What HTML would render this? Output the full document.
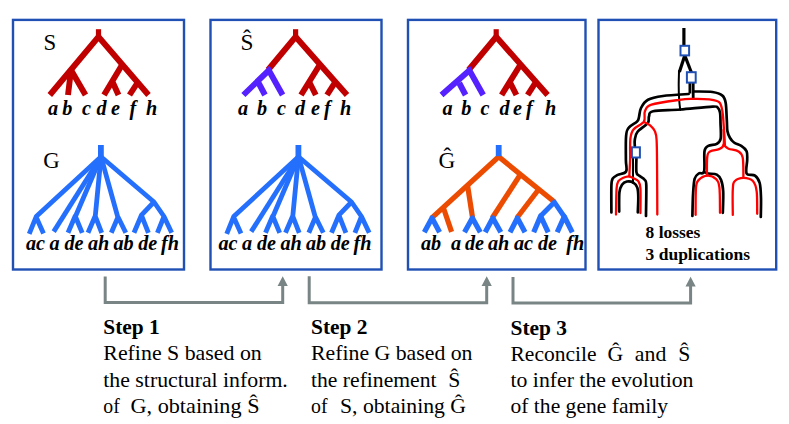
<!DOCTYPE html>
<html><head><meta charset="utf-8">
<style>
html,body{margin:0;padding:0;background:#fff;}
svg{display:block;}
text{font-family:"Liberation Serif",serif;fill:#000;}
.lab{font-weight:bold;font-style:italic;font-size:20.2px;}
.t{font-size:21.7px;}
.tb{font-size:21.7px;font-weight:bold;}
.sm{font-size:17px;font-weight:bold;}
.box{fill:none;stroke:#2050b4;stroke-width:2.4;}
.r{stroke:#c00000;stroke-width:5.9;fill:none;}
.p{stroke:#5522ff;stroke-width:5.9;fill:none;}
.b{stroke:#2470fc;stroke-width:4.8;stroke-linejoin:round;fill:none;}
.o{stroke:#ec4c02;stroke-width:5.2;fill:none;}
.ar{stroke:#788584;stroke-width:3;fill:none;}
.ah{fill:#788584;}
.k{stroke:#000;stroke-width:2.7;fill:none;stroke-linecap:round;stroke-linejoin:round;}
.k3{stroke:#000;stroke-width:3.2;fill:none;stroke-linecap:butt;}
.k2{stroke:#000;stroke-width:2;fill:none;stroke-linecap:round;stroke-linejoin:round;}
.rd{stroke:#ff0000;stroke-width:2.3;fill:none;stroke-linecap:round;stroke-linejoin:round;}
.sq{fill:#fff;stroke:#2050b4;stroke-width:2;}
</style></head><body>
<svg width="789" height="424" viewBox="0 0 789 424">
<rect width="789" height="424" fill="#fff"/>

<rect class="box" x="13.0" y="19.9" width="171.0" height="249.6"/>
<rect class="box" x="210.5" y="19.9" width="171.0" height="249.6"/>
<rect class="box" x="408.0" y="19.9" width="177.5" height="249.6"/>
<rect class="box" x="598.5" y="19.9" width="177.7" height="249.6"/>
<g>
<path class="r" style="stroke-width:5.2" d="M98.5 29.2 V39"/>
<path class="r" d="M49.8 95.0 L98.5 36.8 L148.5 95.0"/>
<path class="r" d="M71.0 70.0 L68.0 95.0 M71.0 70.0 L85.5 95.0"/>
<path class="r" d="M122.0 65.0 L104.0 95.0 M112.6 82.0 L118.5 95.0"/>
<path class="r" d="M138.0 82.0 L129.5 95.0"/>
</g>
<text class="t" style="font-size:22.8px" x="43.6" y="49.7">S</text>
<text class="lab" y="114.6"><tspan x="48.0">a</tspan><tspan x="62.3">b</tspan><tspan x="82.0">c</tspan><tspan x="96.5">d</tspan><tspan x="111.0">e</tspan><tspan x="129.5">f</tspan><tspan x="146.0">h</tspan></text>
<g transform="translate(0.0 0)"><path class="b" style="stroke-width:5.8" d="M100.9 145 V160"/><path class="b" d="M101.0 156.7 L36.2 216.6 L29.2 233.8 M36.0 216.8 L43.5 233.5"/><path class="b" d="M101.0 156.7 L53.7 231.6"/><path class="b" d="M101.0 156.7 L75.2 217.0 M68.0 232.8 L75.2 216.0 L82.2 232.8"/><path class="b" d="M101.0 156.7 L95.2 217.0 M88.0 232.8 L95.2 216.0 L101.7 232.8"/><path class="b" d="M101.0 156.7 L118.0 217.8 M111.3 232.8 L118.0 217.0 L125.8 232.8"/><path class="b" d="M101.0 156.7 L154.0 202.0 L164.0 216.5 L171.7 232.8 M164.0 216.5 L157.4 232.8"/><path class="b" d="M154.0 202.0 L141.4 215.2 L134.0 232.8 M141.4 215.2 L148.4 232.8"/></g>
<text class="t" style="font-size:22.8px" x="43.2" y="168.1">G</text>
<text class="lab" y="250.0"><tspan x="26.0">ac</tspan><tspan x="49.5">a</tspan><tspan x="64.5">de</tspan><tspan x="88.0">ah</tspan><tspan x="113.5">ab</tspan><tspan x="138.2">de</tspan><tspan x="161.0">fh</tspan></text>
<g><path class="r" style="stroke-width:5.2" d="M295.6 29.2 V39"/><path class="r" d="M268.0 70.0 L295.6 36.8 L347.0 95.0"/><path class="r" d="M319.0 66.0 L301.0 95.0 M309.5 82.5 L315.8 95.0"/><path class="r" d="M335.0 82.5 L327.0 95.0"/><path class="p" d="M243.4 95.0 L268.8 70.3 L282.6 95.0"/><path class="p" d="M258.6 83.0 L265.0 95.0"/></g>
<text class="t" style="font-size:23.3px" x="240.6" y="49.7">Ŝ</text>
<text class="lab" y="114.6"><tspan x="238.0">a</tspan><tspan x="257.0">b</tspan><tspan x="277.0">c</tspan><tspan x="295.0">d</tspan><tspan x="311.0">e</tspan><tspan x="324.0">f</tspan><tspan x="340.0">h</tspan></text>
<g transform="translate(197.5 0)"><path class="b" style="stroke-width:5.8" d="M100.9 145 V160"/><path class="b" d="M101.0 156.7 L36.2 216.6 L29.2 233.8 M36.0 216.8 L43.5 233.5"/><path class="b" d="M101.0 156.7 L53.7 231.6"/><path class="b" d="M101.0 156.7 L75.2 217.0 M68.0 232.8 L75.2 216.0 L82.2 232.8"/><path class="b" d="M101.0 156.7 L95.2 217.0 M88.0 232.8 L95.2 216.0 L101.7 232.8"/><path class="b" d="M101.0 156.7 L118.0 217.8 M111.3 232.8 L118.0 217.0 L125.8 232.8"/><path class="b" d="M101.0 156.7 L154.0 202.0 L164.0 216.5 L171.7 232.8 M164.0 216.5 L157.4 232.8"/><path class="b" d="M154.0 202.0 L141.4 215.2 L134.0 232.8 M141.4 215.2 L148.4 232.8"/></g>
<text class="lab" y="250.0"><tspan x="218.5">ac</tspan><tspan x="242.0">a</tspan><tspan x="257.0">de</tspan><tspan x="280.5">ah</tspan><tspan x="306.0">ab</tspan><tspan x="330.7">de</tspan><tspan x="353.5">fh</tspan></text>
<g><path class="r" style="stroke-width:5.2" d="M496.2 29.2 V39"/><path class="r" d="M468.6 70.0 L496.2 36.8 L547.6 95.0"/><path class="r" d="M519.6 66.0 L501.6 95.0 M510.1 82.5 L516.4 95.0"/><path class="r" d="M535.6 82.5 L527.6 95.0"/><path class="p" d="M441.5 95.0 L469.4 70.3 L483.2 95.0"/><path class="p" d="M459.2 83.0 L465.6 95.0"/></g>
<text class="lab" y="114.6"><tspan x="442.5">a</tspan><tspan x="461.3">b</tspan><tspan x="480.5">c</tspan><tspan x="499.5">d</tspan><tspan x="513.0">e</tspan><tspan x="526.0">f</tspan><tspan x="545.0">h</tspan></text>
<g><path class="o" d="M431.3 218.3 L498.7 156.8 L554.8 202.3"/><path class="b" style="stroke-width:5.8" d="M498.7 145 V156.2"/><path class="o" d="M443.3 207.5 L451.6 231.8"/><path class="o" d="M467.5 185.0 L472.6 218.0"/><path class="o" d="M520.4 174.5 L492.2 218.0"/><path class="o" d="M538.6 189.5 L516.8 218.0"/><path class="b" style="stroke-width:5.2" d="M424.3 232.3 L432.0 218.0 L439.6 232.3"/><path class="b" style="stroke-width:5.2" d="M464.5 232.3 L472.4 218.0 L480.3 232.3"/><path class="b" style="stroke-width:5.2" d="M485.2 232.3 L492.8 218.0 L500.8 232.3"/><path class="b" style="stroke-width:5.2" d="M510.0 232.3 L517.4 218.0 L525.0 232.3"/><path class="b" style="stroke-width:5.2" d="M533.7 232.3 L540.6 216.0 L548.2 232.3"/><path class="b" style="stroke-width:5.2" d="M557.2 232.3 L564.3 216.5 L572.3 232.3"/><path class="b" style="stroke-width:5" d="M540.4 216.3 L554.3 202.2 L564.5 217.0"/></g>
<text class="t" style="font-size:23.3px" x="438.4" y="168.2">Ĝ</text>
<text class="lab" y="250.0"><tspan x="421.0">ab</tspan><tspan x="451.0">a</tspan><tspan x="465.0">de</tspan><tspan x="488.0">ah</tspan><tspan x="514.0">ac</tspan><tspan x="538.0">de</tspan><tspan x="566.3">fh</tspan></text>
<g><path class="k" d="M688.6 94.0 C684.3 94.3 669.8 95.0 663.0 96.0 C656.2 97.0 651.7 97.8 648.0 99.8 C644.3 101.8 642.5 105.1 641.0 108.0 C639.5 110.9 639.6 114.8 639.0 117.0 C638.4 119.2 638.9 119.6 637.2 121.4 C635.5 123.2 630.6 125.2 628.8 127.6 C626.9 130.0 626.6 130.6 626.1 136.0 C625.6 141.4 625.9 154.1 625.9 160.0 C625.9 165.9 627.5 169.0 626.1 171.5 C624.7 174.0 619.9 173.8 617.7 174.9 C615.5 176.1 613.8 176.6 612.8 178.4 C611.8 180.2 611.6 179.8 611.4 185.5 C611.2 191.2 611.4 207.9 611.4 212.4"/><path class="k" d="M694.4 91.5 C697.4 91.6 707.8 91.3 712.5 92.0 C717.2 92.7 720.2 93.8 722.4 95.6 C724.6 97.4 725.0 98.9 725.7 103.0 C726.4 107.1 726.5 115.3 726.8 120.0 C727.1 124.7 726.9 128.1 727.4 131.0 C727.9 133.9 728.8 135.8 729.9 137.7 C731.0 139.6 732.1 141.1 734.0 142.5 C735.9 143.9 739.2 144.5 741.3 145.9 C743.4 147.3 745.6 148.9 746.6 151.2 C747.6 153.5 747.2 156.0 747.2 159.7 C747.2 163.4 745.3 170.8 746.6 173.5 C747.9 176.2 752.8 174.0 755.0 175.6 C757.2 177.2 758.7 179.3 759.7 183.0 C760.7 186.7 760.8 192.3 761.0 198.0 C761.2 203.7 760.8 213.8 760.8 217.0"/><path class="k" d="M634.8 146.0 C634.8 145.0 634.4 142.1 634.8 139.8 C635.2 137.5 635.2 134.8 637.4 132.0 C639.6 129.2 645.9 125.6 647.8 123.0 C649.7 120.4 648.1 118.2 649.0 116.3 C649.9 114.3 647.9 112.4 653.1 111.3 C658.3 110.2 670.4 110.3 680.3 109.5 C690.2 108.7 706.2 106.9 712.5 106.6 C718.8 106.3 716.5 106.8 717.8 107.8 C719.0 108.8 719.5 110.0 720.0 112.5 C720.5 115.0 720.4 118.6 720.5 122.9 C720.6 127.2 721.3 135.0 720.7 138.5 C720.1 142.0 718.9 142.6 716.8 143.8 C714.7 145.0 710.3 144.7 708.3 145.9 C706.2 147.1 705.2 146.9 704.5 151.2 C703.8 155.4 705.1 167.7 704.1 171.4 C703.1 175.1 700.4 172.3 698.8 173.5 C697.2 174.7 695.5 175.4 694.6 178.8 C693.7 182.2 693.5 187.5 693.1 193.7 C692.7 199.9 692.5 212.3 692.4 216.0"/><path class="k" d="M704.1 172.0 C704.8 172.2 706.2 173.1 708.3 173.5 C710.4 173.9 714.7 173.5 716.8 174.6 C718.9 175.7 720.0 177.1 721.1 179.9 C722.2 182.7 722.9 186.1 723.2 191.6 C723.5 197.1 722.9 209.3 722.8 212.8"/><path class="k" d="M619.2 211.6 C619.2 208.4 618.9 197.0 619.4 192.5 C619.9 188.0 620.8 186.6 622.0 184.8 C623.2 183.0 625.0 181.9 626.9 181.5 C628.8 181.1 631.6 181.6 633.3 182.6 C635.0 183.6 636.5 185.2 637.3 187.6 C638.1 190.0 638.2 192.7 638.3 196.8 C638.4 200.9 637.9 209.8 637.8 212.4"/><path class="k2" d="M633.0 158.0 L633.0 183.0"/><path class="k" d="M636.4 158.0 C636.4 160.3 636.0 169.1 636.4 172.0 C636.8 174.9 637.6 174.3 639.0 175.6 C640.4 176.9 643.4 178.2 644.6 179.8 C645.8 181.5 646.1 179.5 646.3 185.5 C646.5 191.5 646.0 210.8 646.0 215.9"/><path class="k2" d="M679.0 71.0 C679.0 73.3 678.7 80.2 678.7 85.0 C678.7 89.8 678.9 95.8 679.2 100.0 C679.5 104.2 680.1 108.3 680.3 110.0"/><path class="k3" d="M684.6 56.0 L679.4 72.0"/><path class="k3" d="M685.0 56.0 L691.4 72.5"/><path class="k3" d="M683.9 28 V45"/><path class="k2" style="stroke-width:2.8;stroke-linecap:butt" d="M689.9 83 V93.5"/><path class="k2" style="stroke-width:2.8;stroke-linecap:butt" d="M693.2 83 V98.5"/><path class="rd" d="M724.9 145.0 C724.8 142.5 724.4 135.6 724.0 130.0 C723.6 124.4 723.2 115.9 722.4 111.3 C721.6 106.7 721.3 104.2 719.1 102.2 C716.9 100.2 713.6 100.0 709.2 99.4 C704.8 98.9 697.7 98.8 692.7 98.9 C687.8 99.0 686.4 98.8 679.5 99.8 C672.6 100.8 657.3 102.8 651.5 104.7 C645.7 106.6 646.2 108.5 644.9 111.3 C643.6 114.1 645.8 118.7 643.9 121.7 C642.0 124.7 635.8 126.6 633.5 129.4 C631.2 132.2 631.0 133.4 630.4 138.5 C629.8 143.6 630.3 153.7 630.1 160.0 C629.9 166.3 629.4 173.6 629.3 176.3"/><path class="rd" d="M629.3 176.3 C628.3 176.5 625.2 176.9 623.4 177.7 C621.6 178.5 619.5 179.4 618.4 181.2 C617.3 183.0 617.0 182.8 616.6 188.3 C616.2 193.9 616.1 210.1 616.0 214.5"/><path class="rd" d="M629.3 176.3 C630.1 176.7 632.5 177.6 634.0 178.4 C635.5 179.2 637.2 179.5 638.3 181.2 C639.4 182.8 640.0 183.0 640.4 188.3 C640.8 193.6 640.4 208.9 640.4 213.0"/><path class="rd" d="M645.0 122.5 C645.9 123.0 648.8 124.2 650.4 125.6 C652.0 127.0 653.8 128.7 654.8 131.1 C655.8 133.5 656.2 133.5 656.6 140.0 C657.0 146.5 657.0 157.6 657.1 170.0 C657.2 182.4 657.3 207.1 657.3 214.5"/><path class="rd" d="M723.6 130.0 C723.6 132.5 724.4 141.7 723.6 144.9 C722.8 148.1 721.2 148.1 719.0 149.1 C716.8 150.1 712.5 150.0 710.5 151.2 C708.5 152.4 707.9 152.4 707.3 156.5 C706.7 160.6 707.0 172.4 706.9 175.6"/><path class="rd" d="M723.6 144.9 C724.4 145.5 726.1 147.6 728.5 148.7 C730.9 149.8 735.7 149.7 738.1 151.2 C740.5 152.7 741.8 153.2 742.7 157.6 C743.6 162.0 743.3 174.4 743.4 177.8"/><path class="rd" d="M695.6 214.9 C695.7 210.3 695.5 193.1 696.0 187.3 C696.5 181.5 696.9 181.9 698.8 179.9 C700.7 177.9 704.5 175.8 707.3 175.6 C710.1 175.4 713.8 176.9 715.8 178.8 C717.8 180.8 718.7 181.6 719.4 187.3 C720.1 193.0 719.9 208.6 720.0 212.8"/><path class="rd" d="M732.8 214.9 C732.8 210.7 732.4 195.1 732.8 189.4 C733.1 183.8 733.1 182.9 734.9 181.0 C736.7 179.1 740.4 177.8 743.4 177.8 C746.4 177.8 750.7 178.7 752.9 181.0 C755.1 183.3 756.0 186.1 756.7 191.6 C757.4 197.1 757.1 210.1 757.2 213.8"/><rect class="sq" x="680.5" y="45.8" width="8.6" height="9.6"/><rect class="sq" x="686.9" y="72.2" width="8.8" height="10.4"/><rect class="sq" x="631.9" y="147.3" width="8.0" height="10.2"/></g>
<text class="sm" x="645.6" y="238.4" textLength="54.8" lengthAdjust="spacingAndGlyphs" xml:space="preserve">8 losses</text>
<text class="sm" x="645.6" y="259.6" textLength="104.4" lengthAdjust="spacingAndGlyphs" xml:space="preserve">3 duplications</text>
<path class="ar" d="M105.2 276.4 V302.4 H282.7 V284.3"/><path class="ah" d="M282.7 276.3 L277.6 286.1 L287.8 286.1 Z"/>
<path class="ar" d="M309.2 276.2 V302.8 H486.7 V284.3"/><path class="ah" d="M486.7 276.3 L481.6 286.1 L491.8 286.1 Z"/>
<path class="ar" d="M513.0 277.0 V303.1 H690.6 V284.8"/><path class="ah" d="M690.6 276.8 L685.5 286.6 L695.7 286.6 Z"/>
<text class="tb" x="103.3" y="334.2" textLength="56.5" lengthAdjust="spacingAndGlyphs" xml:space="preserve">Step 1</text>
<text class="t" x="103.3" y="360.4" textLength="158.5" lengthAdjust="spacingAndGlyphs" xml:space="preserve">Refine S based on</text>
<text class="t" x="103.3" y="386.6" textLength="184.5" lengthAdjust="spacingAndGlyphs" xml:space="preserve">the structural inform.</text>
<text class="t" x="103.3" y="412.8" textLength="16.5" lengthAdjust="spacingAndGlyphs" xml:space="preserve">of</text>
<text class="t" x="130.5" y="412.8" textLength="129.0" lengthAdjust="spacingAndGlyphs" xml:space="preserve">G, obtaining Ŝ</text>
<text class="tb" x="311.0" y="334.2" textLength="56.5" lengthAdjust="spacingAndGlyphs" xml:space="preserve">Step 2</text>
<text class="t" x="311.0" y="360.4" textLength="161.5" lengthAdjust="spacingAndGlyphs" xml:space="preserve">Refine G based on</text>
<text class="t" x="311.0" y="386.6" textLength="125.5" lengthAdjust="spacingAndGlyphs" xml:space="preserve">the refinement</text>
<text class="t" x="448.3" y="386.6" xml:space="preserve">Ŝ</text>
<text class="t" x="311.0" y="412.8" textLength="16.5" lengthAdjust="spacingAndGlyphs" xml:space="preserve">of</text>
<text class="t" x="340.0" y="412.8" textLength="126.0" lengthAdjust="spacingAndGlyphs" xml:space="preserve">S, obtaining Ĝ</text>
<text class="tb" x="510.5" y="334.6" textLength="56.5" lengthAdjust="spacingAndGlyphs" xml:space="preserve">Step 3</text>
<text class="t" x="510.5" y="360.9" textLength="86.0" lengthAdjust="spacingAndGlyphs" xml:space="preserve">Reconcile</text>
<text class="t" x="607.5" y="360.9" xml:space="preserve">Ĝ</text>
<text class="t" x="634.8" y="360.9" textLength="31.5" lengthAdjust="spacingAndGlyphs" xml:space="preserve">and</text>
<text class="t" x="678.3" y="360.9" xml:space="preserve">Ŝ</text>
<text class="t" x="510.5" y="387.1" textLength="183.0" lengthAdjust="spacingAndGlyphs" xml:space="preserve">to infer the evolution</text>
<text class="t" x="510.5" y="413.3" textLength="157.5" lengthAdjust="spacingAndGlyphs" xml:space="preserve">of the gene family</text>
</svg>
</body></html>
